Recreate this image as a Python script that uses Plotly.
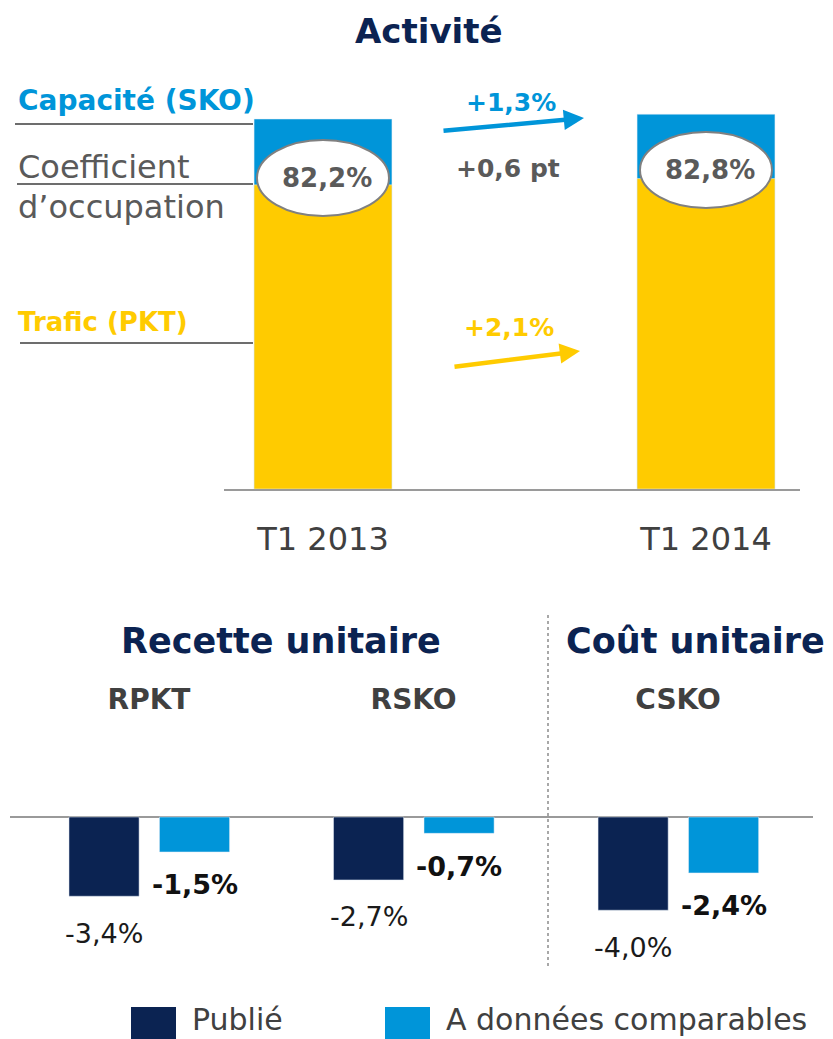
import plotly.graph_objects as go

W, H = 833, 1039

# ---------------- data ----------------
periods = ["T1 2013", "T1 2014"]
capacity = [100.0, 101.3]          # SKO index
traffic = [82.2, 83.9]             # PKT index
load_factor = ["82,2%", "82,8%"]

metrics = ["RPKT", "RSKO", "CSKO"]
published = [-3.4, -2.7, -4.0]
comparable = [-1.5, -0.7, -2.4]
published_lbl = ["-3,4%", "-2,7%", "-4,0%"]
comparable_lbl = ["-1,5%", "-0,7%", "-2,4%"]

NAVY = "#0b2352"
BLUE = "#0095d9"
YEL = "#ffcb00"
GRAY = "#5a5a5a"
DARK = "#404040"
FONT = "DejaVu Sans"

def px(x):
    return x / W

def py(y):
    return 1 - y / H

fig = go.Figure()

# ---------------- top chart ----------------
xpos_top = [0, 1]
fig.add_trace(go.Bar(x=xpos_top, y=capacity, marker_color=BLUE, width=0.36,
                     opacity=1, xaxis="x", yaxis="y", showlegend=False,
                     name="Capacité (SKO)"))
fig.add_trace(go.Bar(x=xpos_top, y=traffic, marker_color=YEL, width=0.36,
                     opacity=1, xaxis="x", yaxis="y", showlegend=False,
                     name="Trafic (PKT)"))

# ---------------- bottom chart ----------------
xpos_bot = list(range(len(metrics)))
fig.add_trace(go.Bar(x=xpos_bot, y=published, marker_color=NAVY, width=0.265,
                     offset=-0.3025, opacity=1, xaxis="x2", yaxis="y2",
                     showlegend=False, name="Publié"))
fig.add_trace(go.Bar(x=xpos_bot, y=comparable, marker_color=BLUE, width=0.265,
                     offset=0.0395, opacity=1, xaxis="x2", yaxis="y2",
                     showlegend=False, name="A données comparables"))

annotations = []
shapes = []


def txt(x, y, text, size, color, xanchor="center", bold=False):
    annotations.append(dict(x=px(x), y=py(y), xref="paper", yref="paper",
                            xanchor=xanchor, yanchor="middle",
                            text=("<b>" + text + "</b>") if bold else text,
                            showarrow=False,
                            font=dict(family=FONT, size=size, color=color)))


# value labels bottom chart
for i, (v, t) in enumerate(zip(published, published_lbl)):
    annotations.append(dict(x=i - 0.17, y=v, xref="x2", yref="y2", text=t,
                            xanchor="center", yanchor="middle",
                            showarrow=False, yshift=-37,
                            font=dict(family=FONT, size=27, color="#1a1a1a")))
for i, (v, t) in enumerate(zip(comparable, comparable_lbl)):
    annotations.append(dict(x=i + 0.172, y=v, xref="x2", yref="y2",
                            text="<b>" + t + "</b>", showarrow=False,
                            xanchor="center", yanchor="middle", yshift=-33,
                            font=dict(family=FONT, size=27, color="#111111")))

# titles
txt(429, 31, "Activité", 34, NAVY, bold=True)
txt(281, 641, "Recette unitaire", 35, NAVY, bold=True)
txt(695, 641, "Coût unitaire", 35, NAVY, bold=True)

# left labels top
txt(16, 101, "Capacité (SKO)", 28, BLUE, xanchor="left", bold=True)
txt(16, 167, "Coefficient", 32, GRAY, xanchor="left")
txt(16, 207, "d’occupation", 32, GRAY, xanchor="left")
txt(16, 322, "Trafic (PKT)", 26, YEL, xanchor="left", bold=True)

for (x0, x1, y) in [(15, 253, 124), (17, 253, 184), (20, 253, 343)]:
    shapes.append(dict(type="line", xref="paper", yref="paper",
                       x0=px(x0), x1=px(x1), y0=py(y), y1=py(y),
                       line=dict(color="#6d6d6d", width=2)))

# ellipses with load factor
for i, (cx, cy) in enumerate([(323, 178), (706, 170)]):
    shapes.append(dict(type="circle", xref="paper", yref="paper",
                       x0=px(cx - 66), x1=px(cx + 66),
                       y0=py(cy + 38), y1=py(cy - 38),
                       fillcolor="white", line=dict(color="#808080", width=2),
                       layer="above"))
    txt(cx + 4, cy, load_factor[i], 26, GRAY, bold=True)

# evolution arrows and labels
annotations.append(dict(x=px(584), y=py(118), xref="paper", yref="paper",
                        ax=-142, ay=13, text="", showarrow=True,
                        arrowhead=2, arrowsize=0.9, arrowwidth=4.5,
                        arrowcolor=BLUE))
annotations.append(dict(x=px(580), y=py(351), xref="paper", yref="paper",
                        ax=-127, ay=16, text="", showarrow=True,
                        arrowhead=2, arrowsize=0.9, arrowwidth=4.5,
                        arrowcolor=YEL))
txt(511, 103, "+1,3%", 25, BLUE, bold=True)
txt(508, 169, "+0,6 pt", 25, GRAY, bold=True)
txt(509, 328, "+2,1%", 25, YEL, bold=True)

# divider
shapes.append(dict(type="line", xref="paper", yref="paper",
                   x0=px(548), x1=px(548), y0=py(615), y1=py(968),
                   line=dict(color="#8c8c8c", width=1.5, dash="dot")))

# legend (drawn)
legend_items = [("Publié", NAVY, 131), ("A données comparables", BLUE, 385)]
for name, col, x0 in legend_items:
    shapes.append(dict(type="rect", xref="paper", yref="paper",
                       x0=px(x0), x1=px(x0 + 45), y0=py(1045), y1=py(1007),
                       fillcolor=col, line=dict(width=0)))
    txt(x0 + 59, 1019, name, 30, DARK, xanchor="left")

fig.update_layout(
    width=W, height=H,
    margin=dict(l=0, r=0, t=0, b=0),
    paper_bgcolor="white", plot_bgcolor="white",
    barmode="overlay",
    showlegend=False,
    annotations=annotations,
    shapes=shapes,
    xaxis=dict(domain=[px(224), px(800)], range=[-0.2585, 1.2454],
               tickvals=xpos_top, ticktext=periods,
               tickfont=dict(family=FONT, size=32, color=DARK),
               showline=True, linecolor="#9a9a9a", linewidth=2,
               showgrid=False, zeroline=False, ticks="",
               ticklabelstandoff=21, fixedrange=True),
    yaxis=dict(domain=[py(489), py(82)], range=[0, 110], visible=False,
               showgrid=False, zeroline=False, fixedrange=True),
    xaxis2=dict(domain=[px(10), px(813)], range=[-0.5255, 2.510],
                anchor="y2", side="top", tickvals=xpos_bot, ticktext=[
                    "<b>" + m + "</b>" for m in metrics],
                tickfont=dict(family=FONT, size=28, color=DARK),
                showline=False, showgrid=False, zeroline=False, ticks="",
                ticklabelstandoff=8, fixedrange=True),
    yaxis2=dict(domain=[py(938.2), py(723.8)], range=[-5.2, 4.0],
                anchor="x2", showgrid=False, showticklabels=False,
                zeroline=True, zerolinecolor="#9a9a9a", zerolinewidth=2,
                fixedrange=True),
)

fig.write_html("out.html", config={"displayModeBar": False},
               post_script="document.body.style.margin='0';"
                           "document.body.style.overflow='hidden';")
